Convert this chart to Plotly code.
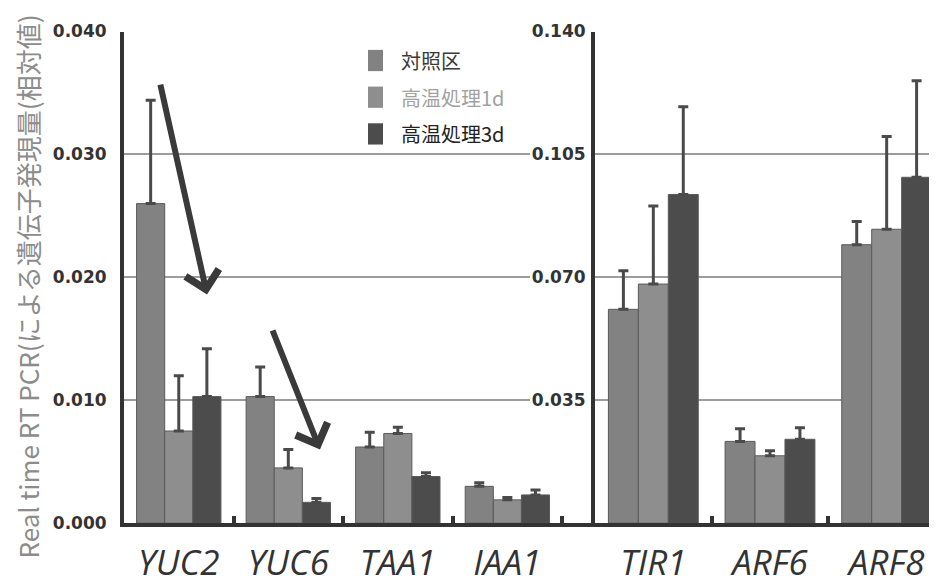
import plotly.graph_objects as go

# ---------------- data ----------------
series_names = ["対照区", "高温処理1d", "高温処理3d"]

left_genes = ["YUC2", "YUC6", "TAA1", "IAA1"]
left_ctrl = [0.0260, 0.0103, 0.0062, 0.0030]
left_1d = [0.0075, 0.0045, 0.0073, 0.0019]
left_3d = [0.0103, 0.0017, 0.0038, 0.0023]
left_ctrl_err = [0.0084, 0.0024, 0.0012, 0.0003]
left_1d_err = [0.0045, 0.0015, 0.0005, 0.0002]
left_3d_err = [0.0039, 0.0003, 0.0003, 0.0004]

right_genes = ["TIR1", "ARF6", "ARF8"]
right_ctrl = [0.0609, 0.0233, 0.0793]
right_1d = [0.0681, 0.0192, 0.0837]
right_3d = [0.0936, 0.0239, 0.0985]
right_ctrl_err = [0.0110, 0.0036, 0.0066]
right_1d_err = [0.0222, 0.0014, 0.0264]
right_3d_err = [0.0250, 0.0033, 0.0275]

left_ticks = [0.000, 0.010, 0.020, 0.030, 0.040]
left_tick_text = ["0.000", "0.010", "0.020", "0.030", "0.040"]
right_ticks = [0.035, 0.070, 0.105, 0.140]
right_tick_text = ["0.035", "0.070", "0.105", "0.140"]

y_title = "Real time RT PCR(による遺伝子発現量(相対値)"

# arrows (tail -> tip) in left-panel axis coordinates
arrow_tail_x = [-0.171, 0.851]
arrow_tail_y = [0.0358, 0.0158]
arrow_tip_x = [0.258, 1.289]
arrow_tip_y = [0.0186, 0.0060]

# ---------------- style ----------------
colors = ["#828282", "#8e8e8e", "#4c4c4c"]
legend_text_colors = ["#3a3a3a", "#a2a2a2", "#222222"]
W, H = 937, 588
OFF = 8  # page body margin offset
px = lambda v: (v - OFF) / W
py = lambda v: 1 - (v - OFF) / H
ydom = [py(531), py(22)]
dark = "#333333"

fig = go.Figure()

# empty trace to create the grid-only subplot (drawn underneath)
fig.add_trace(go.Scatter(x=[], y=[], xaxis="x", yaxis="y", showlegend=False, hoverinfo="skip"))

left_vals = [left_ctrl, left_1d, left_3d]
left_errs = [left_ctrl_err, left_1d_err, left_3d_err]
right_vals = [right_ctrl, right_1d, right_3d]
right_errs = [right_ctrl_err, right_1d_err, right_3d_err]

for i, name in enumerate(series_names):
    fig.add_trace(go.Bar(
        x=left_genes, y=left_vals[i], name=name, xaxis="x2", yaxis="y2",
        marker=dict(color=colors[i], line=dict(color="#5a5a5a", width=1)),
        error_y=dict(type="data", array=left_errs[i], arrayminus=[0] * len(left_genes),
                     symmetric=False, color="#4a4a4a", thickness=3, width=5),
        showlegend=False,
    ))
for i, name in enumerate(series_names):
    fig.add_trace(go.Bar(
        x=right_genes, y=right_vals[i], name=name, xaxis="x3", yaxis="y3",
        marker=dict(color=colors[i], line=dict(color="#5a5a5a", width=1)),
        error_y=dict(type="data", array=right_errs[i], arrayminus=[0] * len(right_genes),
                     symmetric=False, color="#4a4a4a", thickness=3, width=5),
        showlegend=False,
    ))

tick_font = dict(family="DejaVu Sans", size=17, color=dark, weight="bold")
cat_font = dict(family="Open Sans", size=35, color=dark, style="italic")

fig.update_layout(
    width=W, height=H,
    margin=dict(l=0, r=0, t=0, b=0),
    paper_bgcolor="white", plot_bgcolor="rgba(0,0,0,0)",
    barmode="group", bargap=0.23, bargroupgap=0.0,
    showlegend=False,
    # grid-only subplot for left panel (gridlines stop before right labels)
    xaxis=dict(domain=[px(124), px(530)], anchor="y", range=[0, 1], visible=False, fixedrange=True),
    yaxis=dict(domain=ydom, anchor="x", range=[0, 0.040], showgrid=True,
               gridcolor="#9c9c9c", gridwidth=2, tickvals=left_ticks[1:],
               showticklabels=False, ticks="", showline=False, zeroline=False),
    # left bar panel
    xaxis2=dict(domain=[px(124), px(595)], anchor="y2", type="category",
                range=[-0.5, 3.8], showline=True, linewidth=4, linecolor=dark,
                ticks="inside", tickson="boundaries", ticklen=7, tickwidth=4, tickcolor=dark,
                tickfont=cat_font, ticklabelstandoff=6, showgrid=False, zeroline=False),
    yaxis2=dict(domain=ydom, anchor="x2", range=[0, 0.040], showgrid=False,
                tickvals=left_ticks, ticktext=left_tick_text, tickfont=tick_font,
                showline=True, linewidth=4, linecolor=dark, ticks="",
                ticklabelstandoff=10, zeroline=False, ticklabeloverflow="allow"),
    # right bar panel
    xaxis3=dict(domain=[px(595), px(945)], anchor="y3", type="category",
                range=[-0.5, 2.5], showline=True, linewidth=4, linecolor=dark,
                ticks="inside", tickson="boundaries", ticklen=7, tickwidth=4, tickcolor=dark,
                tickfont=cat_font, ticklabelstandoff=6, showgrid=False, zeroline=False),
    yaxis3=dict(domain=ydom, anchor="x3", range=[0, 0.140], showgrid=True,
                gridcolor="#9c9c9c", gridwidth=2,
                tickvals=right_ticks, ticktext=right_tick_text, tickfont=tick_font,
                showline=True, linewidth=4, linecolor=dark, ticks="",
                ticklabelstandoff=2, zeroline=False, ticklabeloverflow="allow"),
)

# y-axis title
fig.add_annotation(
    text=y_title, xref="paper", yref="paper", x=px(28), y=py(286),
    textangle=-90, showarrow=False, xanchor="center", yanchor="middle",
    font=dict(family="Noto Sans CJK JP", size=26, color="#8c8c8c"),
)

# manual legend
legend_y = [52, 90, 128]
for i, name in enumerate(series_names):
    fig.add_shape(type="rect", xref="paper", yref="paper",
                  x0=px(368), x1=px(383), y0=py(legend_y[i] + 11), y1=py(legend_y[i] - 11),
                  fillcolor=colors[i], line=dict(width=0))
    fig.add_annotation(text=name, xref="paper", yref="paper", x=px(399), y=py(legend_y[i]),
                       showarrow=False, xanchor="left", yanchor="middle",
                       font=dict(family="Noto Sans CJK JP", size=20, color=legend_text_colors[i]))

# arrows
for tx, ty, hx, hy in zip(arrow_tail_x, arrow_tail_y, arrow_tip_x, arrow_tip_y):
    fig.add_annotation(x=hx, y=hy, ax=tx, ay=ty, xref="x2", yref="y2", axref="x2", ayref="y2",
                       showarrow=True, arrowhead=4, arrowsize=1.1, arrowwidth=6,
                       arrowcolor="#3a3a3a", text="")

fig.write_html("out.html")
